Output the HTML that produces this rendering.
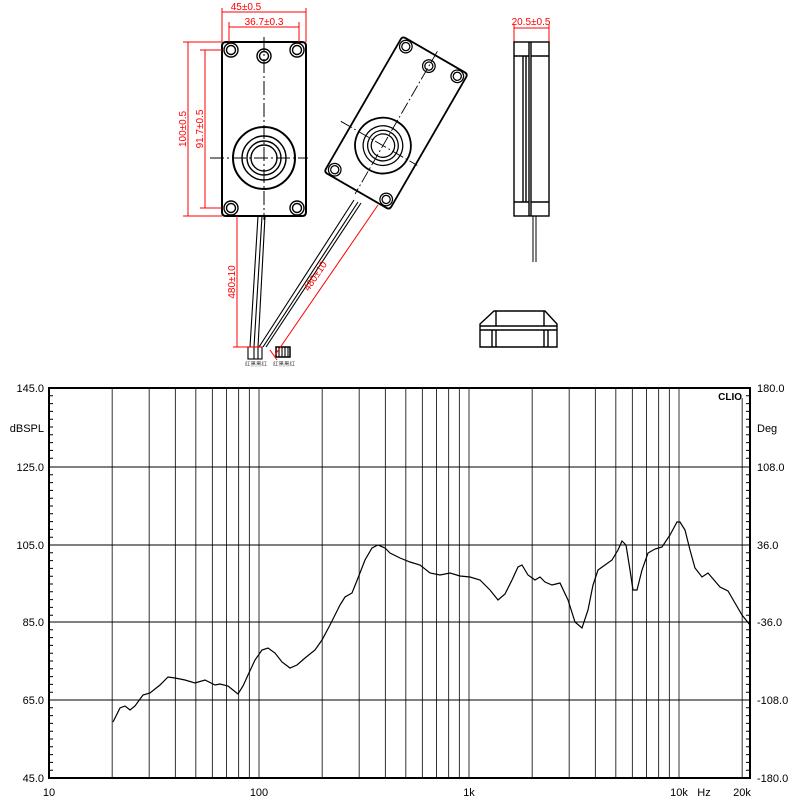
<!DOCTYPE html>
<html><head><meta charset="utf-8"><style>
html,body{margin:0;padding:0;background:#fff}
svg{display:block}
text{font-family:"Liberation Sans","Noto Sans CJK SC",sans-serif}
</style></head><body>
<svg width="800" height="800" viewBox="0 0 800 800" xmlns="http://www.w3.org/2000/svg">
<defs>
<g id="front" fill="none" stroke="#000">
  <path d="M226,42 H302 Q306,42 306,46 V212 Q306,216 302,216 H226 Q222,216 222,212 V46 Q222,42 226,42 Z" stroke-width="2"/>
  <g stroke-width="1.4">
    <circle cx="231" cy="50" r="7"/><circle cx="231" cy="50" r="4.5"/>
    <circle cx="297" cy="50" r="7"/><circle cx="297" cy="50" r="4.5"/>
    <circle cx="231" cy="208" r="7"/><circle cx="231" cy="208" r="4.5"/>
    <circle cx="297" cy="208" r="7"/><circle cx="297" cy="208" r="4.5"/>
    <circle cx="264" cy="56" r="7"/><circle cx="264" cy="56" r="4.5"/>
    <circle cx="264" cy="158" r="31" stroke-width="2"/>
    <circle cx="264" cy="158" r="22"/>
    <circle cx="264" cy="158" r="17"/>
    <circle cx="264" cy="158" r="13"/>
  </g>
  <path d="M264,37 V220" stroke-width="1" stroke-dasharray="14,3,2,3"/>
  <path d="M210,158 H308" stroke-width="1" stroke-dasharray="14,3,2,3"/>
</g>
</defs>

<use href="#front"/>
<g transform="translate(396,123) rotate(30) scale(0.9) translate(-264,-129)"><use href="#front"/></g>

<g stroke="#000" stroke-width="1.1" fill="none">
  <path d="M258,216 L250,347 M262,216 L254,347 M265,216 L258,347"/>
  <path d="M354,200 L259,347 M358,202 L263,347 M361,203 L266,347"/>
  <rect x="248" y="347" width="14" height="12"/>
  <path d="M254,347 V359 M258,347 V359"/>
  <rect x="276" y="347" width="14" height="10" stroke-width="1.5"/>
  <path d="M279,347 V357 M282,347 V357 M285,347 V357 M288,347 V357"/>
</g>
<text x="245" y="366" font-size="5.5" fill="#444">红黑黑红</text>
<text x="273" y="366" font-size="5.5" fill="#444">红黑黑红</text>

<g stroke="#f00" stroke-width="1" fill="none">
  <path d="M222,8 V42 M306,8 V42 M222,12 H306"/>
  <path d="M229,22 V42 M299,22 V42 M229,27 H299"/>
  <path d="M183,42 H222 M188,42 V216 M183,216 H222"/>
  <path d="M200,50 H222 M205,50 V208 M200,208 H222"/>
  <path d="M237,216 V347 M233,347 H262"/>
  <path d="M378,205 L275,355 M270,350 L277,360"/>
  <path d="M514,24 V42 M549,24 V42 M514,28 H549"/>
</g>
<g fill="#f00" font-size="10">
  <text x="246" y="10" text-anchor="middle">45±0.5</text>
  <text x="264" y="25" text-anchor="middle">36.7±0.3</text>
  <text x="531" y="25" text-anchor="middle">20.5±0.5</text>
  <text transform="translate(186,129) rotate(-90)" text-anchor="middle">100±0.5</text>
  <text transform="translate(203,129) rotate(-90)" text-anchor="middle">91.7±0.5</text>
  <text transform="translate(235,282) rotate(-90)" text-anchor="middle">480±10</text>
  <text transform="translate(318,278) rotate(-56)" text-anchor="middle">480±10</text>
</g>

<g fill="none" stroke="#000" stroke-width="1.4">
  <rect x="514" y="42" width="35" height="174"/>
  <path d="M514,56 H529 M531,56 H549 M514,202 H529 M531,202 H549"/>
  <path d="M529,42 V216 M531,42 V216"/>
  <path d="M523,56 V202 M526,56 V202"/>
  <path d="M533,216 V262 M536,216 V262" stroke-width="1"/>
</g>

<g fill="none" stroke="#000" stroke-width="1.4">
  <path d="M480,347 V324 L494,311 H545 L557,324 V347 Z"/>
  <path d="M496,311 V326 M544,311 V326 M480,326 H557"/>
  <path d="M480,330 H557"/>
  <path d="M492,330 V347 M496,330 V347 M544,330 V347 M548,330 V347"/>
</g>

<g stroke="#000" stroke-width="1" fill="none">
  <path d="M112.2,388V778M149.2,388V778M175.4,388V778M195.8,388V778M212.4,388V778M226.5,388V778M238.6,388V778M249.4,388V778M259,388V778M322.2,388V778M359.2,388V778M385.4,388V778M405.8,388V778M422.4,388V778M436.5,388V778M448.6,388V778M459.4,388V778M469,388V778M532.2,388V778M569.2,388V778M595.4,388V778M615.8,388V778M632.4,388V778M646.5,388V778M658.6,388V778M669.4,388V778M679,388V778M742.2,398V778" stroke="#333"/>
  <path d="M49,467H750M49,545H750M49,622H750M49,700H750"/>
  <rect x="49" y="388" width="701" height="390" stroke-width="2"/>
</g>
<g stroke="#000" stroke-width="1">
  <path d="M49,395.8h4M49,403.6h4M49,411.4h4M49,419.2h4M49,427h4M49,434.8h4M49,442.6h4M49,450.4h4M49,458.2h4M49,474.8h4M49,482.6h4M49,490.4h4M49,498.2h4M49,506h4M49,513.8h4M49,521.6h4M49,529.4h4M49,537.2h4M49,552.8h4M49,560.6h4M49,568.4h4M49,576.2h4M49,584h4M49,591.8h4M49,599.6h4M49,607.4h4M49,615.2h4M49,629.8h4M49,637.6h4M49,645.4h4M49,653.2h4M49,661h4M49,668.8h4M49,676.6h4M49,684.4h4M49,692.2h4M49,707.8h4M49,715.6h4M49,723.4h4M49,731.2h4M49,739h4M49,746.8h4M49,754.6h4M49,762.4h4M49,770.2h4"/>
  <path d="M746,395.8h4M746,403.6h4M746,411.4h4M746,419.2h4M746,427h4M746,434.8h4M746,442.6h4M746,450.4h4M746,458.2h4M746,474.8h4M746,482.6h4M746,490.4h4M746,498.2h4M746,506h4M746,513.8h4M746,521.6h4M746,529.4h4M746,537.2h4M746,552.8h4M746,560.6h4M746,568.4h4M746,576.2h4M746,584h4M746,591.8h4M746,599.6h4M746,607.4h4M746,615.2h4M746,629.8h4M746,637.6h4M746,645.4h4M746,653.2h4M746,661h4M746,668.8h4M746,676.6h4M746,684.4h4M746,692.2h4M746,707.8h4M746,715.6h4M746,723.4h4M746,731.2h4M746,739h4M746,746.8h4M746,754.6h4M746,762.4h4M746,770.2h4"/>
</g>
<path fill="none" stroke="#000" stroke-width="1.2" d="M113,722 L120,708 L125,706 L130,710 L135,706 L143,695 L150,693 L160,685 L168,677 L175,678 L185,680 L195,683 L205,680 L215,685 L220,684 L228,686 L233,690 L238,694 L243,686 L248,675 L255,660 L262,650 L268,648 L275,653 L282,662 L290,668 L297,665 L305,658 L315,650 L322,640 L330,625 L340,605 L345,597 L352,593 L358,578 L365,560 L372,548 L378,545 L385,548 L390,553 L400,558 L410,562 L420,565 L430,573 L440,575 L450,573 L460,576 L470,577 L480,580 L490,590 L498,600 L505,594 L512,580 L518,567 L522,565 L528,575 L535,580 L540,577 L545,582 L552,585 L560,583 L568,600 L575,622 L582,628 L588,610 L593,585 L598,570 L605,565 L612,560 L618,550 L622,541 L626,545 L630,570 L633,590 L637,590 L642,570 L648,553 L655,549 L662,547 L670,535 L677,522 L680,522 L685,530 L690,550 L695,568 L702,577 L708,573 L714,580 L720,587 L728,591 L735,603 L742,615 L750,625"/>
<g font-size="11" fill="#000">
  <text x="44" y="392" text-anchor="end">145.0</text>
  <text x="44" y="432" text-anchor="end">dBSPL</text>
  <text x="44" y="471" text-anchor="end">125.0</text>
  <text x="44" y="549" text-anchor="end">105.0</text>
  <text x="44" y="626" text-anchor="end">85.0</text>
  <text x="44" y="704" text-anchor="end">65.0</text>
  <text x="44" y="782" text-anchor="end">45.0</text>
  <text x="757" y="392">180.0</text>
  <text x="757" y="432">Deg</text>
  <text x="757" y="471">108.0</text>
  <text x="757" y="549">36.0</text>
  <text x="757" y="626">-36.0</text>
  <text x="757" y="704">-108.0</text>
  <text x="757" y="782">-180.0</text>
  <text x="49" y="796" text-anchor="middle">10</text>
  <text x="259" y="796" text-anchor="middle">100</text>
  <text x="469" y="796" text-anchor="middle">1k</text>
  <text x="679" y="796" text-anchor="middle">10k</text>
  <text x="704" y="796" text-anchor="middle">Hz</text>
  <text x="742" y="796" text-anchor="middle">20k</text>
  <text x="742" y="400" text-anchor="end" font-weight="bold" font-size="10">CLIO</text>
</g>
</svg>
</body></html>
